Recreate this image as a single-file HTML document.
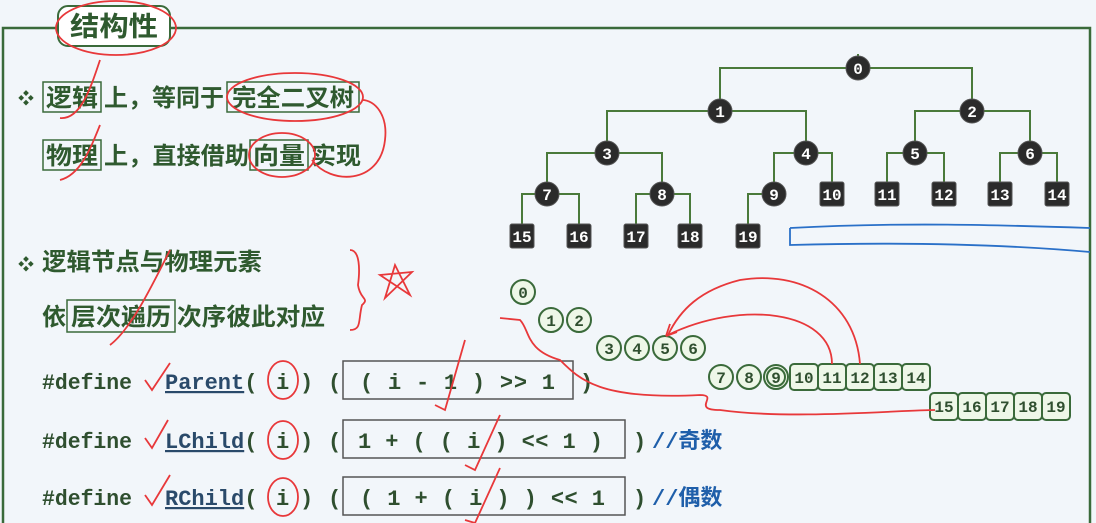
<!DOCTYPE html>
<html><head><meta charset="utf-8"><style>
body{margin:0;background:#f2f6fa;}
svg{display:block}
.t{font-family:"Liberation Sans","Noto Sans CJK SC",sans-serif;font-weight:bold;fill:#2f5a2f;font-size:24px}
.m{font-family:"Liberation Mono",monospace;fill:#2f4f2f;font-size:22px;font-weight:bold}
.u{fill:#2a4a6a;text-decoration:underline}
.c{font-family:"Liberation Mono","Noto Sans CJK SC",monospace;fill:#1f5faa;font-size:22px;font-weight:bold}
.n{font-family:"Liberation Mono",monospace;font-weight:bold;font-size:16px;text-anchor:middle}
</style></head><body>
<svg width="1096" height="523" viewBox="0 0 1096 523" xmlns="http://www.w3.org/2000/svg">
<rect width="1096" height="523" fill="#f2f6fa"/>
<path d="M3 523 V28 H58 M170 28 H1090 V523" fill="none" stroke="#3a6a3a" stroke-width="2.5"/>
<rect x="58" y="6" width="112" height="40" rx="10" fill="#fff" stroke="#3a6a3a" stroke-width="2"/>
<text class="t" x="70" y="36" style="font-size:27px" textLength="88" lengthAdjust="spacingAndGlyphs">结构性</text>
<text class="t" x="18" y="104" style="font-size:16px">❖</text>
<rect x="43" y="82" width="58" height="30" fill="none" stroke="#3a6a3a" stroke-width="1.5"/>
<text class="t" x="46" y="106" textLength="52" lengthAdjust="spacingAndGlyphs">逻辑</text>
<text class="t" x="104" y="106" textLength="120" lengthAdjust="spacingAndGlyphs">上，等同于</text>
<rect x="227" y="82" width="132" height="30" fill="none" stroke="#3a6a3a" stroke-width="1.5"/>
<text class="t" x="232" y="106" textLength="122" lengthAdjust="spacingAndGlyphs">完全二叉树</text>
<rect x="43" y="140" width="58" height="30" fill="none" stroke="#3a6a3a" stroke-width="1.5"/>
<text class="t" x="46" y="164" textLength="52" lengthAdjust="spacingAndGlyphs">物理</text>
<text class="t" x="104" y="164" textLength="145" lengthAdjust="spacingAndGlyphs">上，直接借助</text>
<rect x="250" y="140" width="58" height="30" fill="none" stroke="#3a6a3a" stroke-width="1.5"/>
<text class="t" x="253" y="164" textLength="52" lengthAdjust="spacingAndGlyphs">向量</text>
<text class="t" x="311" y="164" textLength="50" lengthAdjust="spacingAndGlyphs">实现</text>
<text class="t" x="18" y="270" style="font-size:16px">❖</text>
<text class="t" x="42" y="270" textLength="220" lengthAdjust="spacingAndGlyphs">逻辑节点与物理元素</text>
<rect x="67" y="300" width="108" height="32" fill="none" stroke="#3a6a3a" stroke-width="1.5"/>
<text class="t" x="42" y="325">依</text>
<text class="t" x="71" y="325" textLength="100" lengthAdjust="spacingAndGlyphs">层次遍历</text>
<text class="t" x="177" y="325" textLength="148" lengthAdjust="spacingAndGlyphs">次序彼此对应</text>
<!-- code -->
<rect x="343" y="361" width="230" height="38" fill="none" stroke="#555" stroke-width="1.5"/>
<rect x="343" y="420" width="282" height="38" fill="none" stroke="#555" stroke-width="1.5"/>
<rect x="343" y="477" width="282" height="38" fill="none" stroke="#555" stroke-width="1.5"/>
<g class="m">
<text x="42" y="389" textLength="90" lengthAdjust="spacingAndGlyphs">#define</text>
<text x="42" y="448" textLength="90" lengthAdjust="spacingAndGlyphs">#define</text>
<text x="42" y="505" textLength="90" lengthAdjust="spacingAndGlyphs">#define</text>
<text x="165" y="389"><tspan class="u">Parent</tspan>(</text>
<text x="165" y="448"><tspan class="u">LChild</tspan>(</text>
<text x="165" y="505"><tspan class="u">RChild</tspan>(</text>
<text x="276" y="389">i</text><text x="300" y="389">)</text><text x="328" y="389">(</text>
<text x="276" y="448">i</text><text x="300" y="448">)</text><text x="328" y="448">(</text>
<text x="276" y="505">i</text><text x="300" y="505">)</text><text x="328" y="505">(</text>
<text x="360" y="389" xml:space="preserve" textLength="195" lengthAdjust="spacing">( i - 1 ) &gt;&gt; 1</text>
<text x="580" y="389">)</text>
<text x="358" y="448" xml:space="preserve" textLength="245" lengthAdjust="spacing">1 + ( ( i ) &lt;&lt; 1 )</text>
<text x="633" y="448">)</text>
<text x="360" y="505" xml:space="preserve" textLength="245" lengthAdjust="spacing">( 1 + ( i ) ) &lt;&lt; 1</text>
<text x="633" y="505">)</text>
</g>
<text class="c" x="652" y="448">//奇数</text>
<text class="c" x="652" y="505">//偶数</text>
<!-- tree edges -->
<g fill="none" stroke="#4a7a3a" stroke-width="2">
<path d="M858 54 V68 M720 111 V68 H972 V111"/>
<path d="M607 153 V111 H806 V153"/>
<path d="M915 153 V111 H1030 V153"/>
<path d="M547 194 V153 H662 V194"/>
<path d="M774 194 V153 H832 V194"/>
<path d="M887 194 V153 H944 V194"/>
<path d="M1000 194 V153 H1057 V194"/>
<path d="M522 236 V194 H579 V236"/>
<path d="M636 236 V194 H690 V236"/>
<path d="M748 236 V194 H774"/>
</g>
<g fill="#2b2b2b" stroke="#555" stroke-width="1">
<circle cx="858" cy="68" r="12"/><circle cx="720" cy="111" r="12"/><circle cx="972" cy="111" r="12"/>
<circle cx="607" cy="153" r="12"/><circle cx="806" cy="153" r="12"/><circle cx="915" cy="153" r="12"/><circle cx="1030" cy="153" r="12"/>
<circle cx="547" cy="194" r="12"/><circle cx="662" cy="194" r="12"/><circle cx="774" cy="194" r="12"/>
<rect x="820" y="182" width="24" height="24" rx="2"/><rect x="875" y="182" width="24" height="24" rx="2"/><rect x="932" y="182" width="24" height="24" rx="2"/><rect x="988" y="182" width="24" height="24" rx="2"/><rect x="1045" y="182" width="24" height="24" rx="2"/>
<rect x="510" y="224" width="24" height="24" rx="2"/><rect x="567" y="224" width="24" height="24" rx="2"/><rect x="624" y="224" width="24" height="24" rx="2"/><rect x="678" y="224" width="24" height="24" rx="2"/><rect x="736" y="224" width="24" height="24" rx="2"/>
</g>
<g class="n" fill="#fff">
<text x="858" y="74">0</text><text x="720" y="117">1</text><text x="972" y="117">2</text>
<text x="607" y="159">3</text><text x="806" y="159">4</text><text x="915" y="159">5</text><text x="1030" y="159">6</text>
<text x="547" y="200">7</text><text x="662" y="200">8</text><text x="774" y="200">9</text>
<text x="832" y="200">10</text><text x="887" y="200">11</text><text x="944" y="200">12</text><text x="1000" y="200">13</text><text x="1057" y="200">14</text>
<text x="522" y="242">15</text><text x="579" y="242">16</text><text x="636" y="242">17</text><text x="690" y="242">18</text><text x="748" y="242">19</text>
</g>
<g fill="#eef7e8" stroke="#3a6a3a" stroke-width="2">
<circle cx="523" cy="292" r="12"/>
<circle cx="551" cy="320" r="12"/><circle cx="579" cy="320" r="12"/>
<circle cx="609" cy="348" r="12"/><circle cx="637" cy="348" r="12"/><circle cx="665" cy="348" r="12"/><circle cx="693" cy="348" r="12"/>
<circle cx="721" cy="377" r="12"/><circle cx="749" cy="377" r="12"/><circle cx="776" cy="377" r="12"/><circle cx="776" cy="377" r="9"/>
<rect x="790" y="364" width="28" height="26" rx="4"/><rect x="818" y="364" width="28" height="26" rx="4"/><rect x="846" y="364" width="28" height="26" rx="4"/><rect x="874" y="364" width="28" height="26" rx="4"/><rect x="902" y="364" width="28" height="26" rx="4"/>
<rect x="930" y="393" width="28" height="27" rx="4"/><rect x="958" y="393" width="28" height="27" rx="4"/><rect x="986" y="393" width="28" height="27" rx="4"/><rect x="1014" y="393" width="28" height="27" rx="4"/><rect x="1042" y="393" width="28" height="27" rx="4"/>
</g>
<g class="n" fill="#2f4f2f">
<text x="523" y="298">0</text><text x="551" y="326">1</text><text x="579" y="326">2</text>
<text x="609" y="354">3</text><text x="637" y="354">4</text><text x="665" y="354">5</text><text x="693" y="354">6</text>
<text x="721" y="383">7</text><text x="749" y="383">8</text><text x="776" y="383">9</text>
<text x="804" y="383">10</text><text x="832" y="383">11</text><text x="860" y="383">12</text><text x="888" y="383">13</text><text x="916" y="383">14</text>
<text x="944" y="412">15</text><text x="972" y="412">16</text><text x="1000" y="412">17</text><text x="1028" y="412">18</text><text x="1056" y="412">19</text>
</g>
<g fill="none" stroke="#e8383a" stroke-width="1.8">
<ellipse cx="116" cy="28" rx="60" ry="27"/>
<ellipse cx="295" cy="97" rx="68" ry="24"/>
<ellipse cx="282" cy="155" rx="33" ry="22"/>
<path d="M312 160 C330 185 380 185 385 140 C388 115 375 100 362 100"/>
<path d="M100 60 C90 90 80 120 60 118 M100 125 C90 150 80 175 60 180"/>
<path d="M170 250 C150 290 130 330 110 345"/>
<path d="M350 250 C360 250 360 270 358 285 C360 300 370 298 362 305 C358 320 362 330 350 330"/>
<path d="M395 265 L410 295 L380 275 L412 272 L385 298 Z"/>
<ellipse cx="283" cy="380" rx="15" ry="19"/><ellipse cx="283" cy="440" rx="15" ry="19"/><ellipse cx="283" cy="497" rx="15" ry="19"/>
<path d="M145 380 L152 390 L170 363 M145 438 L152 448 L168 420 M145 495 L152 505 L170 475"/>
<path d="M435 405 L445 410 L465 340 M465 465 L475 470 L500 415 M465 520 L475 523 L500 468"/>
<path d="M500 318 L520 320 C530 330 525 350 560 360 C580 380 600 400 700 395 C720 395 690 410 720 410 C790 420 900 410 935 410"/>
<path d="M832 364 C832 310 740 300 668 335 M860 364 C855 300 800 270 740 280 C700 290 680 310 668 335"/>
<path d="M666 336 l4 -12 M666 336 l11 -4"/>
</g>
<path d="M790 228 C900 222 1000 225 1090 228 M790 228 L790 245 C900 242 1000 244 1090 252" fill="none" stroke="#2a70c8" stroke-width="1.8"/>
</svg>
</body></html>
